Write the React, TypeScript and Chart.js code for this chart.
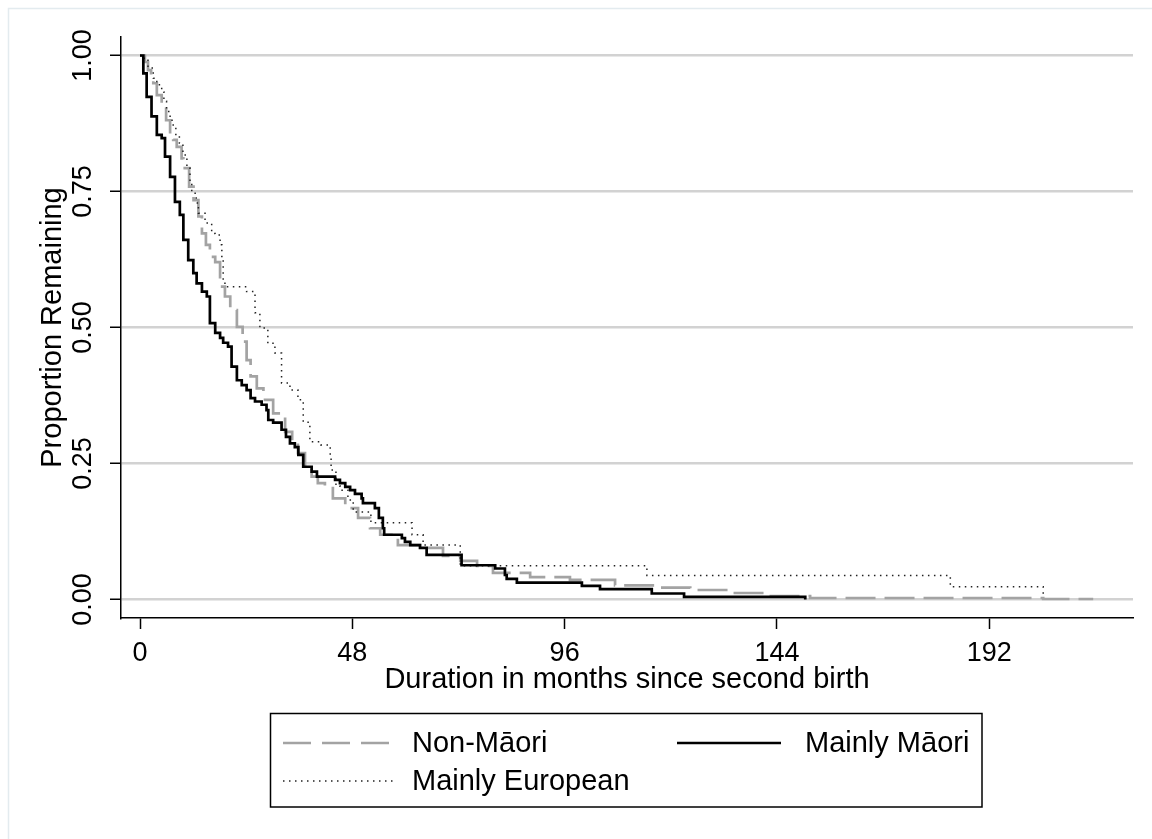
import React, { useEffect, useRef } from 'react';
import { Chart, registerables } from 'chart.js';

Chart.register(...registerables);

const FONT = '"Liberation Sans", Arial, Helvetica, sans-serif';

// Category / axis tick values
const xTickValues = [0, 48, 96, 144, 192];
const yTickValues = [0, 0.25, 0.5, 0.75, 1];
const seriesLabels = ['Non-Māori', 'Mainly Māori', 'Mainly European'];

// Non-Māori (Kaplan–Meier step points: month, proportion remaining)
const nonMaoriMonths = [0, 1.1, 1.8, 2.5, 3.0, 3.8, 4.9, 5.9, 6.8, 7.5, 8.3, 9.4, 9.8, 11.1, 12.1, 13.2, 14.0, 14.9, 15.8, 17.0, 18.1, 19.2, 20.4, 21.9, 23.2, 24.1, 25.0, 26.4, 27.9, 30.1, 32.8, 34.4, 35.7, 37.3, 38.8, 40.2, 41.8, 43.6, 46.4, 49.3, 52.0, 54.3, 58.3, 63.3, 68.5, 72.4, 76.2, 79.8, 88.2, 97.2, 107.4, 116.5, 124.4, 133.9, 141.3, 151.5, 204.2, 215.5];
const nonMaoriSurv = [1, 0.988, 0.973, 0.959, 0.949, 0.927, 0.906, 0.881, 0.854, 0.845, 0.832, 0.811, 0.793, 0.759, 0.734, 0.704, 0.673, 0.652, 0.63, 0.62, 0.575, 0.557, 0.532, 0.501, 0.474, 0.44, 0.41, 0.388, 0.367, 0.342, 0.308, 0.29, 0.269, 0.247, 0.226, 0.214, 0.205, 0.186, 0.168, 0.15, 0.131, 0.119, 0.1, 0.095, 0.08, 0.071, 0.062, 0.049, 0.041, 0.036, 0.026, 0.022, 0.0175, 0.012, 0.0064, 0.0028, 0.0009, 0.0009];

// Mainly Māori
const maoriMonths = [0, 0.75, 1.5, 2.6, 3.8, 4.9, 5.65, 6.8, 7.9, 9.0, 9.8, 10.9, 12.05, 12.8, 14.0, 15.1, 15.8, 17.0, 18.1, 18.8, 19.9, 20.7, 21.9, 23.0, 24.1, 25.0, 26.0, 27.5, 28.6, 29.0, 30.1, 32.0, 33.0, 33.9, 35.0, 35.8, 36.9, 38.8, 40.0, 44.1, 45.2, 46.4, 47.5, 48.6, 50.1, 50.4, 53.1, 54.0, 54.9, 55.2, 59.2, 59.9, 61.1, 63.3, 64.8, 72.7, 80.3, 82.5, 82.9, 85.2, 99.9, 104.0, 115.7, 123.0, 150.4, 150.4];
const maoriSurv = [1, 0.967, 0.924, 0.888, 0.854, 0.848, 0.814, 0.777, 0.731, 0.707, 0.661, 0.624, 0.6, 0.581, 0.566, 0.557, 0.508, 0.49, 0.481, 0.472, 0.465, 0.428, 0.403, 0.394, 0.385, 0.37, 0.364, 0.358, 0.348, 0.33, 0.325, 0.312, 0.299, 0.287, 0.28, 0.266, 0.244, 0.235, 0.226, 0.22, 0.214, 0.207, 0.201, 0.194, 0.186, 0.177, 0.168, 0.15, 0.131, 0.119, 0.113, 0.106, 0.1, 0.095, 0.082, 0.063, 0.057, 0.045, 0.038, 0.031, 0.025, 0.019, 0.011, 0.005, 0.005, 0];

// Mainly European
const europeanMonths = [0, 0.75, 1.8, 3.0, 3.8, 4.9, 5.4, 6.0, 6.8, 7.5, 8.1, 8.9, 9.7, 10.6, 11.3, 11.7, 12.7, 13.2, 14.7, 16.2, 17.0, 18.1, 18.5, 18.8, 19.2, 24.1, 26.0, 27.1, 28.9, 30.5, 32.0, 33.9, 35.7, 36.9, 38.4, 40.9, 43.0, 43.2, 44.3, 45.2, 47.0, 48.2, 52.2, 61.5, 64.0, 72.4, 114.6, 183.2, 204.2];
const europeanSurv = [1, 0.995, 0.977, 0.958, 0.946, 0.933, 0.916, 0.897, 0.881, 0.869, 0.852, 0.839, 0.817, 0.793, 0.766, 0.747, 0.729, 0.71, 0.692, 0.673, 0.67, 0.652, 0.624, 0.587, 0.575, 0.566, 0.527, 0.499, 0.471, 0.453, 0.398, 0.385, 0.367, 0.326, 0.29, 0.284, 0.26, 0.238, 0.209, 0.201, 0.183, 0.161, 0.141, 0.119, 0.1, 0.062, 0.044, 0.0235, 0.008];

const toPoints = (xs: number[], ys: number[]) => xs.map((x, i) => ({ x, y: ys[i] }));

const backgroundPlugin = {
  id: 'stataBackground',
  beforeDraw(chart: any) {
    const { ctx, width, height } = chart;
    ctx.save();
    ctx.fillStyle = '#ffffff';
    ctx.fillRect(0, 0, width, height);
    ctx.strokeStyle = '#e3ebef';
    ctx.lineWidth = 1.5;
    ctx.beginPath();
    ctx.moveTo(8.5, height + 2);
    ctx.lineTo(8.5, 8.5);
    ctx.lineTo(width + 2, 8.5);
    ctx.stroke();
    ctx.restore();
  },
};

const boxLegendPlugin = {
  id: 'boxLegend',
  afterDraw(chart: any) {
    const { ctx } = chart;
    const ds = chart.data.datasets;
    ctx.save();
    ctx.fillStyle = '#ffffff';
    ctx.fillRect(270, 713, 712, 94);
    ctx.strokeStyle = '#000000';
    ctx.lineWidth = 1.5;
    ctx.setLineDash([]);
    ctx.strokeRect(270.5, 713.5, 711.5, 93.5);
    const items = [
      { i: 0, x0: 283, x1: 394, tx: 412, y: 743 },
      { i: 1, x0: 677, x1: 781, tx: 805, y: 743 },
      { i: 2, x0: 283, x1: 394, tx: 412, y: 781 },
    ];
    for (const it of items) {
      const d = ds[it.i];
      ctx.save();
      ctx.strokeStyle = d.borderColor;
      ctx.lineWidth = d.borderWidth;
      ctx.setLineDash(d.legendDash || d.borderDash || []);
      ctx.lineCap = 'butt';
      ctx.beginPath();
      ctx.moveTo(it.x0, it.y);
      ctx.lineTo(it.x1, it.y);
      ctx.stroke();
      ctx.restore();
      ctx.fillStyle = '#000000';
      ctx.font = `29px ${FONT}`;
      ctx.textBaseline = 'middle';
      ctx.textAlign = 'left';
      ctx.fillText(d.label, it.tx, it.y + 1);
    }
    ctx.restore();
  },
};

export default function App() {
  const ref = useRef<HTMLCanvasElement>(null);

  useEffect(() => {
    const canvas = ref.current;
    if (!canvas) return;
    const chart = new Chart(canvas, {
      type: 'line',
      data: {
        datasets: [
          {
            label: seriesLabels[0],
            data: toPoints(nonMaoriMonths, nonMaoriSurv),
            borderColor: '#a3a3a3',
            borderWidth: 2.7,
            borderDash: [30, 9],
            legendDash: [28, 11],
            stepped: true,
            pointRadius: 0,
            fill: false,
            order: 3,
          } as any,
          {
            label: seriesLabels[1],
            data: toPoints(maoriMonths, maoriSurv),
            borderColor: '#000000',
            borderWidth: 2.7,
            stepped: true,
            pointRadius: 0,
            fill: false,
            order: 1,
          },
          {
            label: seriesLabels[2],
            data: toPoints(europeanMonths, europeanSurv),
            borderColor: '#222222',
            borderWidth: 1.5,
            borderDash: [1.5, 4.5],
            stepped: true,
            pointRadius: 0,
            fill: false,
            order: 2,
          } as any,
        ],
      },
      options: {
        responsive: false,
        animation: false,
        devicePixelRatio: 1,
        layout: { padding: { left: 0, right: 19, top: 37, bottom: 142 } },
        plugins: {
          legend: { display: false },
          tooltip: { enabled: false },
        },
        scales: {
          x: {
            type: 'linear',
            position: 'bottom',
            min: -4.3,
            max: 224.5,
            afterBuildTicks: (scale: any) => {
              scale.ticks = xTickValues.map((v) => ({ value: v }));
            },
            afterFit: (scale: any) => {
              scale.height = 79;
            },
            grid: {
              drawOnChartArea: false,
              drawTicks: true,
              tickLength: 11,
              tickColor: '#000000',
              tickWidth: 1.5,
            },
            border: { display: true, color: '#000000', width: 1.5 },
            ticks: {
              color: '#000000',
              font: { family: FONT, size: 27 },
              padding: 8,
              maxRotation: 0,
              minRotation: 0,
              autoSkip: false,
              callback: (v: any) => String(v),
            },
            title: {
              display: true,
              text: 'Duration in months since second birth',
              color: '#000000',
              font: { family: FONT, size: 29 },
              padding: { top: 0, bottom: 0 },
            },
          },
          y: {
            type: 'linear',
            position: 'left',
            min: -0.034,
            max: 1.034,
            afterBuildTicks: (scale: any) => {
              scale.ticks = yTickValues.map((v) => ({ value: v }));
            },
            afterFit: (scale: any) => {
              scale.width = 121;
            },
            grid: {
              drawOnChartArea: true,
              color: '#d2d2d2',
              lineWidth: 2.5,
              drawTicks: true,
              tickLength: 11,
              tickColor: '#000000',
              tickWidth: 1.5,
            },
            border: { display: true, color: '#000000', width: 1.5 },
            ticks: {
              color: '#000000',
              font: { family: FONT, size: 27 },
              padding: 0,
              minRotation: 90,
              maxRotation: 90,
              crossAlign: 'center',
              autoSkip: false,
              callback: (v: any) => Number(v).toFixed(2),
            },
            title: {
              display: true,
              text: 'Proportion Remaining',
              color: '#000000',
              font: { family: FONT, size: 29 },
              padding: { top: 36, bottom: 0 },
            },
          },
        },
      } as any,
      plugins: [backgroundPlugin, boxLegendPlugin],
    });
    return () => chart.destroy();
  }, []);

  return (
    <div style={{ position: 'absolute', left: 0, top: 0, width: 1152, height: 839, background: '#ffffff' }}>
      <canvas ref={ref} width={1152} height={839} style={{ display: 'block', width: 1152, height: 839 }} />
    </div>
  );
}
